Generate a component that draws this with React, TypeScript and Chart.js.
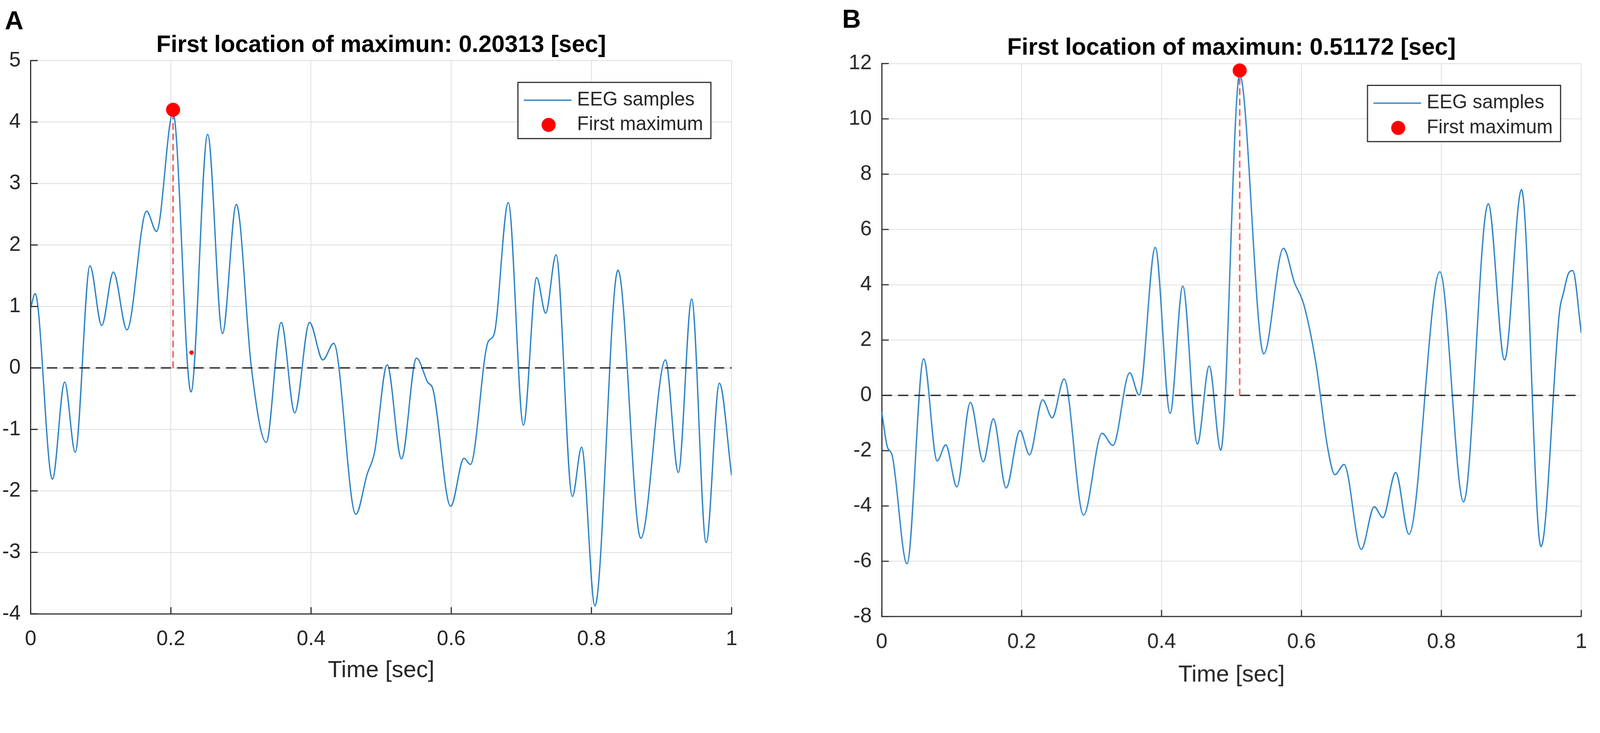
import { useEffect, useRef, useState } from "react";
import { Chart, registerables } from "chart.js";

Chart.register(...registerables);

// Panel A: EEG trace (time in sec, amplitude)
const timeA = [
  0, 0.0063, 0.031, 0.0485, 0.0635, 0.0846, 0.1013, 0.118, 0.1373, 0.1654,
  0.1795, 0.2031, 0.2287, 0.2525, 0.2736, 0.2934, 0.3149, 0.336, 0.3574, 0.3767,
  0.3978, 0.4168, 0.4323, 0.4639, 0.48, 0.4906, 0.5086, 0.529, 0.5504, 0.5663,
  0.5742, 0.5992, 0.6182, 0.6273, 0.6524, 0.6612, 0.6814, 0.703, 0.7219, 0.7347,
  0.7495, 0.7728, 0.786, 0.805, 0.8379, 0.8704, 0.9056, 0.924, 0.943, 0.9637,
  0.9826, 1.0,
];
const eegA = [
  0.97, 1.21, -1.81, -0.23, -1.37, 1.66, 0.69, 1.56, 0.62, 2.55,
  2.22, 4.15, -0.39, 3.8, 0.56, 2.66, 0.0, -1.21, 0.74, -0.73,
  0.74, 0.13, 0.4, -2.38, -1.73, -1.37, 0.05, -1.48, 0.16, -0.23,
  -0.36, -2.25, -1.47, -1.57, 0.42, 0.55, 2.69, -0.93, 1.47, 0.89,
  1.84, -2.09, -1.29, -3.87, 1.59, -2.77, 0.13, -1.7, 1.12, -2.84,
  -0.25, -1.75,
];
const maxTimeA = 0.20313;
const maxValueA = 4.2;
const strayTimeA = [0.2295];
const strayValueA = [0.25];

// Panel B
const timeB = [
  0, 0.0079, 0.015, 0.0361, 0.0599, 0.0792, 0.0915, 0.1074, 0.1267, 0.1452,
  0.1596, 0.1778, 0.1976, 0.2112, 0.23, 0.2437, 0.2607, 0.2885, 0.3149, 0.3305,
  0.3545, 0.3679, 0.391, 0.4122, 0.4304, 0.4512, 0.4681, 0.4846, 0.5117, 0.5461,
  0.5742, 0.59, 0.6032, 0.6204, 0.6376, 0.6478, 0.6609, 0.6855, 0.704, 0.7163,
  0.7347, 0.7536, 0.7978, 0.8318, 0.867, 0.8903, 0.9146, 0.9424, 0.9689, 0.9744,
  0.9817, 0.9878, 1.0,
];
const eegB = [
  -0.61, -1.85, -2.18, -6.09, 1.32, -2.37, -1.79, -3.31, -0.25, -2.4,
  -0.85, -3.35, -1.27, -2.15, -0.16, -0.81, 0.59, -4.33, -1.37, -1.81,
  0.82, 0.01, 5.35, -0.65, 3.95, -1.76, 1.06, -1.98, 11.6, 1.5,
  5.32, 4.08, 3.3, 1.2, -1.92, -2.87, -2.5, -5.57, -4.03, -4.42,
  -2.79, -5.02, 4.47, -3.85, 6.93, 1.28, 7.44, -5.47, 3.04, 3.69,
  4.41, 4.51, 2.26,
];
const maxTimeB = 0.51172;
const maxValueB = 11.75;

const xTickLabels = ["0", "0.2", "0.4", "0.6", "0.8", "1"];
const yTickLabelsA = ["-4", "-3", "-2", "-1", "0", "1", "2", "3", "4", "5"];
const yTickLabelsB = ["-8", "-6", "-4", "-2", "0", "2", "4", "6", "8", "10", "12"];

const FONT = "'Liberation Sans', Arial, sans-serif";
const LINE_BLUE = "#2a82c6";
const DOT_RED = "#ff0000";
const DARK = "#262626";

// design size of the figure; everything is laid out in these pixels
const FIG_W = 4328;
const FIG_H = 1876;

// MATLAB-style inward ticks and the boxed legend in the upper right
const matlabDecor = {
  id: "matlabDecor",
  afterDraw(chart: Chart) {
    const { ctx, chartArea, scales } = chart;
    const { left, right, top, bottom } = chartArea;
    const x = scales.x;
    const y = scales.y;
    ctx.save();
    ctx.strokeStyle = DARK;
    ctx.lineWidth = 3;
    ctx.beginPath();
    x.ticks.forEach((t) => {
      const px = x.getPixelForValue(t.value);
      ctx.moveTo(px, bottom);
      ctx.lineTo(px, bottom - 18);
    });
    y.ticks.forEach((t) => {
      const py = y.getPixelForValue(t.value);
      ctx.moveTo(left, py);
      ctx.lineTo(left + 19, py);
    });
    ctx.stroke();

    const bw = 522;
    const bh = 152;
    const bx = right - 56 - bw;
    const by = top + 59;
    ctx.fillStyle = "#ffffff";
    ctx.fillRect(bx, by, bw, bh);
    ctx.strokeStyle = DARK;
    ctx.lineWidth = 3;
    ctx.strokeRect(bx, by, bw, bh);

    ctx.strokeStyle = LINE_BLUE;
    ctx.lineWidth = 3.5;
    ctx.beginPath();
    ctx.moveTo(bx + 16, by + 48);
    ctx.lineTo(bx + 145, by + 48);
    ctx.stroke();

    ctx.fillStyle = DOT_RED;
    ctx.beginPath();
    ctx.arc(bx + 83, by + 115, 19, 0, Math.PI * 2);
    ctx.fill();

    const labels = chart.data.datasets.map((d) => d.label || "");
    ctx.fillStyle = DARK;
    ctx.font = `52px ${FONT}`;
    ctx.textBaseline = "middle";
    ctx.textAlign = "left";
    ctx.fillText(labels[4], bx + 160, by + 48);
    ctx.fillText(labels[0], bx + 160, by + 115);
    ctx.restore();
  },
};

interface PanelProps {
  letter: string;
  left: number;
  width: number;
  dpr: number;
  times: number[];
  values: number[];
  maxTime: number;
  maxValue: number;
  strayTimes: number[];
  strayValues: number[];
  yMin: number;
  yMax: number;
  yStep: number;
  yLabels: string[];
  yAxisWidth: number;
  xAxisHeight: number;
  padRight: number;
  titleTop: number;
  titleBottom: number;
  xTickPad: number;
  xTitleBottom: number;
  letterLeft: number;
  letterTop: number;
}

function EegPanel(p: PanelProps) {
  const canvasRef = useRef<HTMLCanvasElement>(null);
  const chartRef = useRef<Chart | null>(null);

  useEffect(() => {
    if (!canvasRef.current) return;
    const ctx = canvasRef.current.getContext("2d");
    if (!ctx) return;

    if (chartRef.current) {
      chartRef.current.destroy();
    }

    const eeg = p.times.map((t, i) => ({ x: t, y: p.values[i] }));
    const stray = p.strayTimes.map((t, i) => ({ x: t, y: p.strayValues[i] }));

    chartRef.current = new Chart(ctx, {
      type: "line",
      data: {
        datasets: [
          {
            label: "First maximum",
            data: [{ x: p.maxTime, y: p.maxValue }],
            showLine: false,
            pointRadius: 19,
            pointBackgroundColor: DOT_RED,
            pointBorderWidth: 0,
            clip: false,
          },
          {
            label: "",
            data: stray,
            showLine: false,
            pointRadius: 6,
            pointBackgroundColor: DOT_RED,
            pointBorderWidth: 0,
          },
          {
            label: "",
            data: [
              { x: p.maxTime, y: 0 },
              { x: p.maxTime, y: p.maxValue },
            ],
            borderColor: "#f35a5a",
            borderWidth: 4,
            borderDash: [18, 10],
            pointRadius: 0,
          },
          {
            label: "",
            data: [
              { x: 0, y: 0 },
              { x: 1, y: 0 },
            ],
            borderColor: "#222222",
            borderWidth: 3.5,
            borderDash: [28, 16],
            pointRadius: 0,
          },
          {
            label: "EEG samples",
            data: eeg,
            borderColor: LINE_BLUE,
            borderWidth: 3.5,
            pointRadius: 0,
            cubicInterpolationMode: "monotone",
          },
        ],
      },
      options: {
        animation: false,
        responsive: true,
        maintainAspectRatio: false,
        devicePixelRatio: p.dpr,
        events: [],
        layout: {
          padding: { left: 0, right: p.padRight, top: 0, bottom: 0 },
        },
        plugins: {
          legend: { display: false },
          tooltip: { enabled: false },
          title: {
            display: true,
            text: `First location of maximun: ${p.maxTime} [sec]`,
            fullSize: false,
            color: "#000000",
            font: { family: FONT, size: 64, weight: "bold" },
            padding: { top: p.titleTop, bottom: p.titleBottom },
          },
        },
        scales: {
          x: {
            type: "linear",
            min: 0,
            max: 1,
            ticks: {
              stepSize: 0.2,
              autoSkip: false,
              maxRotation: 0,
              padding: p.xTickPad,
              color: DARK,
              font: { family: FONT, size: 56 },
              callback: (_v, i) => xTickLabels[i],
            },
            grid: { color: "#dedede", lineWidth: 2, drawTicks: false },
            border: { display: true, color: DARK, width: 3 },
            title: {
              display: true,
              text: "Time [sec]",
              color: DARK,
              font: { family: FONT, size: 63 },
              padding: { top: 0, bottom: p.xTitleBottom },
            },
            afterFit: (scale) => {
              scale.height = p.xAxisHeight;
            },
          },
          y: {
            type: "linear",
            min: p.yMin,
            max: p.yMax,
            ticks: {
              stepSize: p.yStep,
              autoSkip: false,
              padding: 27,
              color: DARK,
              font: { family: FONT, size: 56 },
              callback: (_v, i) => p.yLabels[i],
            },
            grid: { color: "#dedede", lineWidth: 2, drawTicks: false },
            border: { display: true, color: DARK, width: 3 },
            afterFit: (scale) => {
              scale.width = p.yAxisWidth;
            },
          },
        },
      },
      plugins: [matlabDecor],
    });

    return () => {
      if (chartRef.current) {
        chartRef.current.destroy();
        chartRef.current = null;
      }
    };
  }, []);

  return (
    <div style={{ position: "absolute", left: p.left, top: 0, width: p.width, height: FIG_H }}>
      <canvas ref={canvasRef} />
      <div
        style={{
          position: "absolute",
          left: p.letterLeft - p.left,
          top: p.letterTop,
          fontFamily: FONT,
          fontWeight: "bold",
          fontSize: 70,
          lineHeight: "70px",
          color: "#000",
        }}
      >
        {p.letter}
      </div>
    </div>
  );
}

export default function App() {
  // the viewport may be smaller than the figure in CSS pixels; fit it
  const [scale] = useState(() => (window.innerWidth || FIG_W) / FIG_W);
  const dpr = (window.devicePixelRatio || 1) * scale;

  useEffect(() => {
    document.body.style.margin = "0";
    document.body.style.overflow = "hidden";
  }, []);

  return (
    <div
      style={{
        position: "absolute",
        left: 0,
        top: 0,
        width: FIG_W,
        height: FIG_H,
        background: "#ffffff",
        overflow: "hidden",
        transform: `scale(${scale})`,
        transformOrigin: "0 0",
      }}
    >
      <EegPanel
        letter="A"
        left={0}
        width={2180}
        dpr={dpr}
        times={timeA}
        values={eegA}
        maxTime={maxTimeA}
        maxValue={maxValueA}
        strayTimes={strayTimeA}
        strayValues={strayValueA}
        yMin={-4}
        yMax={5}
        yStep={1}
        yLabels={yTickLabelsA}
        yAxisWidth={83}
        xAxisHeight={216}
        padRight={201}
        titleTop={85}
        titleBottom={2}
        xTickPad={35}
        xTitleBottom={24}
        letterLeft={13}
        letterTop={20}
      />
      <EegPanel
        letter="B"
        left={2180}
        width={2148}
        dpr={dpr}
        times={timeB}
        values={eegB}
        maxTime={maxTimeB}
        maxValue={maxValueB}
        strayTimes={[]}
        strayValues={[]}
        yMin={-8}
        yMax={12}
        yStep={2}
        yLabels={yTickLabelsB}
        yAxisWidth={205}
        xAxisHeight={209}
        padRight={49}
        titleTop={92}
        titleBottom={3}
        xTickPad={36}
        xTitleBottom={13}
        letterLeft={2278}
        letterTop={16}
      />
    </div>
  );
}
